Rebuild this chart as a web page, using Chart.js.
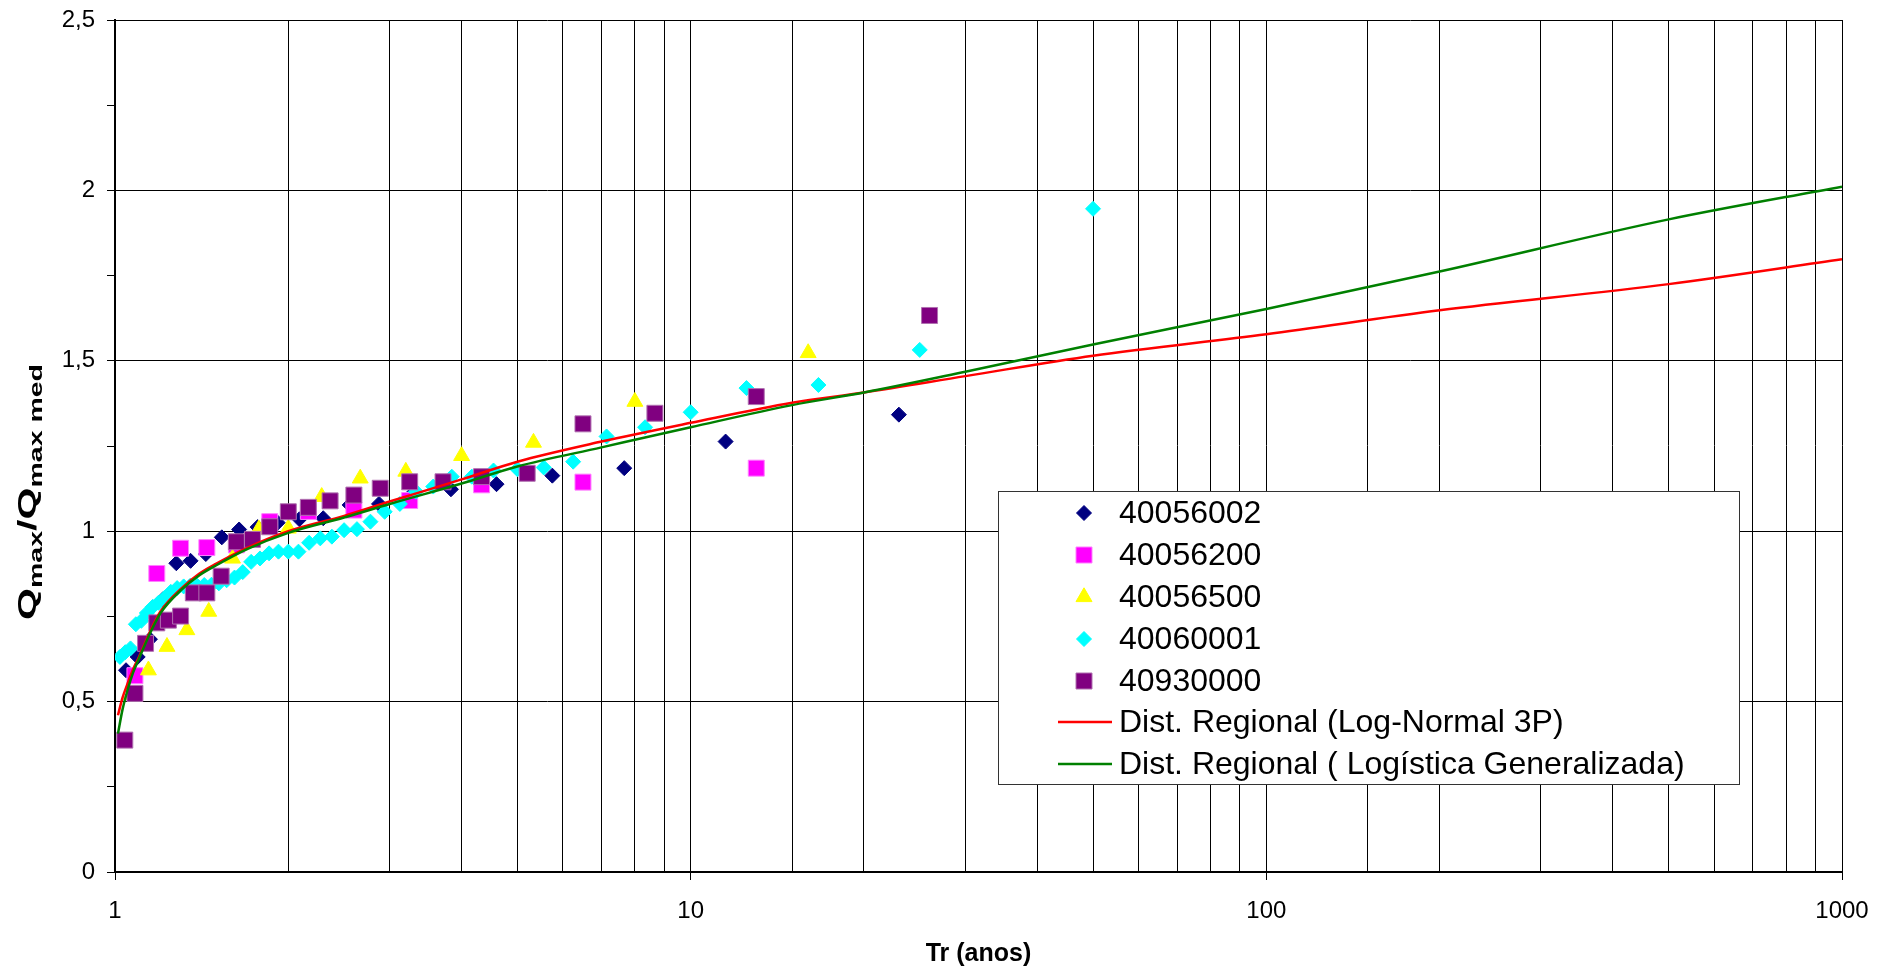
<!DOCTYPE html>
<html>
<head>
<meta charset="utf-8">
<style>
  html, body { margin: 0; padding: 0; background: #fff; }
  #wrap { width: 1892px; height: 974px; }
</style>
</head>
<body>
<div id="wrap"><canvas id="chart"></canvas></div>
<script src="https://cdn.jsdelivr.net/npm/chart.js@4.4.1/dist/chart.umd.min.js"></script>
<script>
// return period Tr (anos) and Qmax/Qmax med per station
const tr40056002 = [1.045, 1.095, 1.15, 1.211, 1.278, 1.353, 1.438, 1.533, 1.643, 1.769, 1.917, 2.091, 2.3, 2.556, 2.875, 3.286, 3.833, 4.6, 5.75, 7.667, 11.5, 23];
const q40056002 = [0.592, 0.631, 0.683, 0.80, 0.906, 0.913, 0.933, 0.982, 1.005, 1.012, 1.025, 1.035, 1.038, 1.077, 1.080, 1.11, 1.123, 1.138, 1.163, 1.185, 1.263, 1.342];

const tr40056200 = [1.083, 1.182, 1.3, 1.444, 1.625, 1.857, 2.167, 2.6, 3.25, 4.333, 6.5, 13];
const q40056200 = [0.576, 0.876, 0.950, 0.952, 0.96, 1.028, 1.058, 1.062, 1.090, 1.136, 1.144, 1.185];

const tr40056500 = [1.067, 1.143, 1.231, 1.333, 1.455, 1.6, 1.778, 2, 2.286, 2.667, 3.2, 4, 5.333, 8, 16];
const q40056500 = [0.52, 0.592, 0.661, 0.710, 0.764, 0.920, 1.006, 1.008, 1.101, 1.155, 1.175, 1.221, 1.260, 1.380, 1.523];

const tr40060001 = [1.02, 1.042, 1.064, 1.087, 1.111, 1.136, 1.163, 1.19, 1.22, 1.25, 1.282, 1.316, 1.351, 1.389, 1.429, 1.471, 1.515, 1.563, 1.613, 1.667, 1.724, 1.786, 1.852, 1.923, 2, 2.083, 2.174, 2.273, 2.381, 2.5, 2.632, 2.778, 2.941, 3.125, 3.333, 3.571, 3.846, 4.167, 4.545, 5, 5.556, 6.25, 7.143, 8.333, 10, 12.5, 16.67, 25, 50];
const q40060001 = [0.631, 0.645, 0.656, 0.727, 0.737, 0.760, 0.778, 0.790, 0.805, 0.822, 0.833, 0.838, 0.840, 0.840, 0.842, 0.843, 0.847, 0.856, 0.864, 0.880, 0.910, 0.920, 0.935, 0.940, 0.940, 0.940, 0.966, 0.979, 0.984, 1.003, 1.006, 1.028, 1.057, 1.080, 1.116, 1.131, 1.160, 1.160, 1.178, 1.182, 1.187, 1.204, 1.278, 1.305, 1.349, 1.420, 1.429, 1.532, 1.946];

const tr40930000 = [1.04, 1.083, 1.13, 1.182, 1.238, 1.3, 1.368, 1.444, 1.529, 1.625, 1.733, 1.857, 2, 2.167, 2.364, 2.6, 2.889, 3.25, 3.714, 4.333, 5.2, 6.5, 8.667, 13, 26];
const q40930000 = [0.387, 0.524, 0.671, 0.731, 0.739, 0.751, 0.819, 0.819, 0.868, 0.969, 0.976, 1.013, 1.057, 1.070, 1.089, 1.106, 1.126, 1.145, 1.145, 1.160, 1.170, 1.315, 1.346, 1.395, 1.633];

// regional distributions
const trCurve = [1.012, 1.03, 1.05, 1.075, 1.1, 1.15, 1.2, 1.3, 1.4, 1.5, 1.7, 2, 2.5, 3, 4, 5, 7, 10, 15, 20, 30, 50, 100, 200, 500, 1000];
const qLogNormal = [0.46, 0.51, 0.55, 0.595, 0.63, 0.705, 0.765, 0.83, 0.875, 0.905, 0.952, 1.0, 1.045, 1.087, 1.152, 1.204, 1.263, 1.318, 1.377, 1.407, 1.455, 1.515, 1.578, 1.648, 1.725, 1.798];
const qLogistica = [0.406, 0.475, 0.53, 0.585, 0.625, 0.70, 0.76, 0.826, 0.87, 0.90, 0.948, 0.995, 1.04, 1.08, 1.14, 1.19, 1.246, 1.305, 1.37, 1.407, 1.468, 1.548, 1.652, 1.762, 1.915, 2.011];

const xTickLabels = [1, 10, 100, 1000];
const yTickLabels = [0, 0.5, 1, 1.5, 2, 2.5];

const FONT = '"Liberation Sans", Arial, sans-serif';
Chart.defaults.font.family = FONT;
Chart.defaults.color = '#000';

const pts = (xs, ys) => xs.map((x, i) => ({ x: x, y: ys[i] }));

function station(label, xs, ys, color, border, style, radius, order) {
  return {
    type: 'scatter', label: label, data: pts(xs, ys), order: order,
    pointStyle: style, pointRadius: radius, pointBackgroundColor: color,
    pointBorderColor: border, pointBorderWidth: 1, showLine: false
  };
}

function curve(label, ys, color, order) {
  return {
    type: 'line', label: label, data: pts(trCurve, ys), order: order,
    borderColor: color, borderWidth: 2.5, pointRadius: 0,
    cubicInterpolationMode: 'monotone', fill: false
  };
}

const datasets = [
  station('40056002', tr40056002, q40056002, '#000080', '#000080', 'rectRot', 7.5, 7),
  station('40056200', tr40056200, q40056200, '#ff00ff', '#ff80ff', 'rect', 11.3, 6),
  station('40056500', tr40056500, q40056500, '#ffff00', '#ffff00', 'triangle', 9.2, 5),
  station('40060001', tr40060001, q40060001, '#00ffff', '#00ffff', 'rectRot', 7.5, 4),
  station('40930000', tr40930000, q40930000, '#800080', '#b070b0', 'rect', 11.3, 3),
  curve('Dist. Regional (Log-Normal 3P)', qLogNormal, '#ff0000', 2),
  curve('Dist. Regional ( Logística Generalizada)', qLogistica, '#008000', 1)
];

function marker(ctx, style, x, y, fill, stroke) {
  ctx.save();
  ctx.fillStyle = fill;
  ctx.strokeStyle = stroke;
  ctx.lineWidth = 1;
  ctx.beginPath();
  if (style === 'rectRot') {
    ctx.moveTo(x, y - 7.5); ctx.lineTo(x + 7.5, y); ctx.lineTo(x, y + 7.5); ctx.lineTo(x - 7.5, y);
  } else if (style === 'rect') {
    ctx.rect(x - 8, y - 8, 16, 16);
  } else {
    ctx.moveTo(x, y - 9.2); ctx.lineTo(x + 8, y + 4.6); ctx.lineTo(x - 8, y + 4.6);
  }
  ctx.closePath();
  ctx.fill();
  ctx.stroke();
  ctx.restore();
}

// legend box, axis titles
const decor = {
  id: 'decor',
  afterDraw(chart) {
    const ctx = chart.ctx;
    ctx.save();
    ctx.fillStyle = '#fff';
    ctx.fillRect(998.5, 491.5, 741, 293);
    ctx.strokeStyle = '#333';
    ctx.lineWidth = 1;
    ctx.strokeRect(998.5, 491.5, 741, 293);

    const rows = [513, 555, 597, 639, 681, 722, 764];
    ctx.font = '32px ' + FONT;
    ctx.textBaseline = 'middle';
    ctx.textAlign = 'left';
    chart.data.datasets.forEach((ds, i) => {
      const y = rows[i];
      if (ds.type === 'scatter') {
        marker(ctx, ds.pointStyle, 1084, y, ds.pointBackgroundColor, ds.pointBorderColor);
      } else {
        ctx.strokeStyle = ds.borderColor;
        ctx.lineWidth = 2.5;
        ctx.beginPath();
        ctx.moveTo(1058, y);
        ctx.lineTo(1112, y);
        ctx.stroke();
      }
      ctx.fillStyle = '#000';
      ctx.fillText(ds.label, 1119, y + 1);
    });

    // x title
    const area = chart.chartArea;
    ctx.font = 'bold 25px ' + FONT;
    ctx.textAlign = 'center';
    ctx.fillText('Tr (anos)', (area.left + area.right) / 2, 954);

    // y title with subscripts, stretched along its length
    ctx.translate(27, 492);
    ctx.rotate(-Math.PI / 2);
    const parts = [['Q', 0], ['max', 1], ['/Q', 0], ['max med', 1]];
    const big = 'bold 26px ' + FONT, small = 'bold 18px ' + FONT;
    let w = 0;
    parts.forEach(p => { ctx.font = p[1] ? small : big; w += ctx.measureText(p[0]).width; });
    ctx.scale(256 / w, 1);
    let x = -w / 2;
    ctx.textAlign = 'left';
    ctx.textBaseline = 'alphabetic';
    parts.forEach(p => {
      ctx.font = p[1] ? small : big;
      ctx.fillText(p[0], x, p[1] ? 15 : 9);
      x += ctx.measureText(p[0]).width;
    });
    ctx.restore();
  }
};

const isPow10 = v => Math.abs(Math.log10(v) - Math.round(Math.log10(v))) < 1e-9;

new Chart(document.getElementById('chart'), {
  data: { datasets: datasets },
  options: {
    responsive: true,
    maintainAspectRatio: false,
    animation: false,
    events: [],
    devicePixelRatio: 1,
    layout: { padding: { top: 20, right: 50, left: 0, bottom: 0 } },
    plugins: { legend: { display: false }, tooltip: { enabled: false } },
    scales: {
      x: {
        type: 'logarithmic',
        position: 'bottom',
        min: 1,
        max: 1000,
        afterFit: s => { s.height = 102; },
        border: { display: true, color: '#000', width: 2 },
        grid: {
          color: '#000',
          lineWidth: 1,
          tickLength: 8,
          tickColor: c => (c.tick && isPow10(c.tick.value)) ? '#000' : 'rgba(0,0,0,0)'
        },
        ticks: {
          autoSkip: false,
          maxRotation: 0,
          padding: 17,
          font: { size: 24 },
          color: '#000',
          callback: v => xTickLabels.includes(v) ? String(v) : ''
        }
      },
      y: {
        type: 'linear',
        min: 0,
        max: 2.5,
        afterFit: s => { s.width = 115; s.paddingTop = 0; s.paddingBottom = 0; },
        border: { display: true, color: '#000', width: 2 },
        grid: {
          color: c => (c.tick && yTickLabels.includes(c.tick.value)) ? '#000' : 'rgba(0,0,0,0)',
          lineWidth: 1,
          tickLength: 8,
          tickColor: '#000'
        },
        ticks: {
          stepSize: 0.25,
          padding: 12,
          font: { size: 24 },
          color: '#000',
          callback: v => yTickLabels.includes(v) ? String(v).replace('.', ',') : ''
        }
      }
    }
  },
  plugins: [decor]
});
</script>
</body>
</html>
